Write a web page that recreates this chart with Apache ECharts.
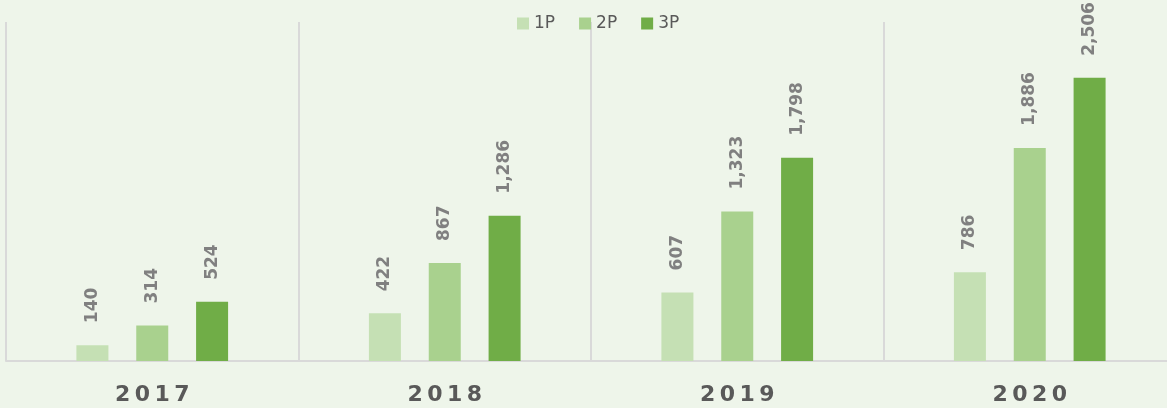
<!DOCTYPE html>
<html>
<head>
<meta charset="utf-8">
<script src="https://cdn.jsdelivr.net/npm/echarts@6/dist/echarts.min.js"></script>
<style>
  html, body { margin: 0; padding: 0; background: #eef5ea; overflow: hidden; }
  #chart { width: 1180px; height: 408px; }
</style>
</head>
<body>
<div id="chart"></div>
<script>
// chart data
var years = ['2017', '2018', '2019', '2020'];
var seriesNames = ['1P', '2P', '3P'];
var p1 = [140, 422, 607, 786];
var p2 = [314, 867, 1323, 1886];
var p3 = [524, 1286, 1798, 2506];

var colors = ['#c5e0b4', '#a9d18e', '#70ad47'];

function makeSeries(name, values, color) {
  return {
    name: name,
    type: 'bar',
    data: values,
    barWidth: 32,
    barGap: '87%',
    itemStyle: { color: color },
    label: {
      show: true,
      position: 'top',
      distance: 22,
      rotate: 90,
      align: 'left',
      verticalAlign: 'middle',
      color: '#808080',
      fontSize: 17,
      fontWeight: 'bold',
      fontFamily: 'DejaVu Sans',
      formatter: function (p) {
        return p.value.toLocaleString('en-US');
      }
    }
  };
}

var chart = echarts.init(document.getElementById('chart'));
chart.setOption({
  backgroundColor: '#eef5ea',
  animation: false,
  color: colors,
  legend: {
    top: 10,
    left: 512,
    itemWidth: 12,
    itemHeight: 12,
    itemGap: 24,
    icon: 'rect',
    textStyle: { color: '#595959', fontSize: 17, fontFamily: 'DejaVu Sans' },
    data: seriesNames
  },
  grid: { left: 6, top: 22, right: 4, bottom: 47, containLabel: false },
  xAxis: {
    type: 'category',
    data: years,
    axisTick: { show: false },
    axisLine: { lineStyle: { color: '#d9d9d9', width: 2 } },
    splitLine: { show: true, lineStyle: { color: '#d9d9d9', width: 2 } },
    axisLabel: {
      margin: 23,
      color: '#595959',
      fontSize: 22,
      fontWeight: 'bold',
      fontFamily: 'DejaVu Sans',
      formatter: function (v) { return v.split('').join('\u2009'); }
    }
  },
  yAxis: {
    type: 'value',
    min: 0,
    max: 3000,
    show: false,
    splitLine: { show: false }
  },
  series: [
    makeSeries(seriesNames[0], p1, colors[0]),
    makeSeries(seriesNames[1], p2, colors[1]),
    makeSeries(seriesNames[2], p3, colors[2])
  ]
});
</script>
</body>
</html>
